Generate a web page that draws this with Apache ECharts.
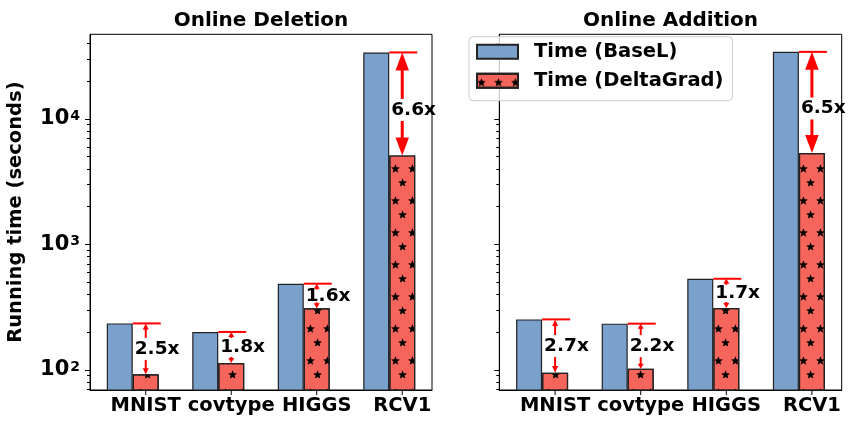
<!DOCTYPE html>
<html>
<head>
<meta charset="utf-8">
<script src="https://cdn.jsdelivr.net/npm/echarts@6/dist/echarts.min.js"></script>
<style>
  html, body { margin: 0; padding: 0; background: #fff; }
  #chart { width: 848px; height: 428px; }
</style>
</head>
<body>
<div id="chart"></div>
<script>
// data
var categories = ['MNIST', 'covtype', 'HIGGS', 'RCV1'];
var delBaseL = [235, 201, 487, 33850];
var delDeltaGrad = [92.4, 113.7, 310, 5120];
var delSpeedup = ['2.5x', '1.8x', '1.6x', '6.6x'];
var addBaseL = [253, 234, 533, 34200];
var addDeltaGrad = [95.2, 102.5, 312, 5340];
var addSpeedup = ['2.7x', '2.2x', '1.7x', '6.5x'];
var majorTicks = [100, 1000, 10000];
var minorTicks = [70, 80, 90, 200, 300, 400, 500, 600, 700, 800, 900,
    2000, 3000, 4000, 5000, 6000, 7000, 8000, 9000, 20000, 30000, 40000];
var yMin = 69.3, yMax = 47200;

var FONT = '"DejaVu Sans", "Liberation Sans", sans-serif';
var BLUE = '#7aa0cc', RED = '#f5655c', EDGE = '#222';
var BAR_FRAC = 0.304;

// one hatch tile (16 x 31 px, drawn x10) holding two staggered stars,
// corner specks pin the path's bounding box to the whole tile
function star(cx, cy, R) {
    var d = '';
    for (var k = 0; k < 10; k++) {
        var r = k % 2 ? R * 0.44 : R;
        var a = -Math.PI / 2 + k * Math.PI / 5;
        d += (k ? 'L' : 'M') + (cx + r * Math.cos(a)).toFixed(1) + ',' + (cy + r * Math.sin(a)).toFixed(1);
    }
    return d + 'Z';
}
var starTile = 'path://M0,0L0.01,0ZM160,310L159.99,310Z' +
    star(40, 82, 52) + star(120, 237, 52);

function arrow(x, yFrom, yTo, headLen, headW, lw) {
    var dir = yTo > yFrom ? 1 : -1;
    var els = [];
    if (Math.abs(yTo - yFrom) > headLen) {
        els.push({
            type: 'line',
            shape: { x1: x, y1: yFrom, x2: x, y2: yTo - dir * headLen * 0.8 },
            style: { stroke: 'red', lineWidth: lw }
        });
    }
    els.push({
        type: 'polygon',
        shape: { points: [[x, yTo], [x - headW / 2, yTo - dir * headLen], [x + headW / 2, yTo - dir * headLen]] },
        style: { fill: 'red' }
    });
    return els;
}

function renderNote(params, api) {
    var cs = params.coordSys;
    var i = api.value(0);
    var pBase = api.coord([i, api.value(1)]);
    var pDg = api.coord([i, api.value(2)]);
    var bw = api.size([1, 0])[0] * BAR_FRAC;
    var x0 = pBase[0];          // left edge of the DeltaGrad bar
    var ax = x0 + bw / 2;       // arrow runs down the middle of it
    var yb = pBase[1], yd = pDg[1];
    var span = yd - yb;
    var mid = (yb + yd) / 2 + (span > 80 ? 6 : 0);
    var gap = Math.min(11, span / 2 - 6);
    var seg = mid - gap - yb;
    var headLen = Math.max(5, Math.min(18, seg * 0.42));
    var headW = headLen * 0.75 < 6 ? 6 : headLen * 0.75;
    var lw = headLen > 12 ? 3 : 2;
    var children = [{
        type: 'line',
        shape: { x1: x0, y1: yb, x2: x0 + bw + 2, y2: yb },
        style: { stroke: 'red', lineWidth: 2 }
    }, {
        // x tick sits under the DeltaGrad bar
        type: 'line',
        shape: { x1: ax, y1: cs.y + cs.height, x2: ax, y2: cs.y + cs.height + 5 },
        style: { stroke: '#000', lineWidth: 1 }
    }];
    children = children.concat(arrow(ax, mid - gap, yb, headLen, headW, lw));
    children = children.concat(arrow(ax, mid + gap, yd, headLen, headW, lw));
    children.push({
        type: 'text',
        style: {
            text: api.value(3), x: ax - 11, y: mid,
            align: 'left', verticalAlign: 'middle',
            font: 'bold 18.5px ' + FONT, fill: '#000'
        }
    });
    return { type: 'group', children: children };
}

function noteData(base, dg, labels) {
    return categories.map(function (c, i) { return [i, base[i], dg[i], labels[i]]; });
}

function xAxisOf(grid) {
    return {
        type: 'category', gridIndex: grid, data: categories,
        axisLine: { lineStyle: { color: '#000', width: 1 } },
        axisTick: { show: false },
        axisLabel: {
            color: '#000', fontSize: 19.5, fontWeight: 'bold', fontFamily: FONT,
            margin: 6, padding: [0, 0, 0, 26], interval: 0
        }
    };
}

function yAxesOf(grid, labels) {
    var major = {
        type: 'log', logBase: 10, gridIndex: grid, min: yMin, max: yMax,
        axisLine: { show: true, lineStyle: { color: '#000', width: 1 } },
        axisTick: { show: true, length: 5, customValues: majorTicks, lineStyle: { color: '#000' } },
        splitLine: { show: false },
        axisLabel: {
            show: labels, customValues: majorTicks, margin: 10,
            formatter: function (v) { return '{b|10}{s|' + Math.round(Math.log10(v)) + '}'; },
            rich: {
                b: { fontSize: 21, fontWeight: 'bold', fontFamily: FONT, color: '#000', lineHeight: 22 },
                s: { fontSize: 14, fontWeight: 'bold', fontFamily: FONT, color: '#000', verticalAlign: 'top', padding: [1, 0, 0, 1] }
            }
        }
    };
    if (labels) {
        major.name = 'Running time (seconds)';
        major.nameLocation = 'middle';
        major.nameGap = 64;
        major.nameTextStyle = { fontSize: 19.5, fontWeight: 'bold', fontFamily: FONT, color: '#000' };
    }
    var minor = {
        type: 'log', logBase: 10, gridIndex: grid, min: yMin, max: yMax, position: 'left',
        axisLine: { show: false },
        axisTick: { show: true, length: 3, customValues: minorTicks, lineStyle: { color: '#000' } },
        axisLabel: { show: false },
        splitLine: { show: false }
    };
    return [major, minor];
}

function seriesOf(grid, base, dg, labels) {
    var yi = grid * 2;
    return [{
        name: 'Time (BaseL)', type: 'bar', xAxisIndex: grid, yAxisIndex: yi,
        data: base, barWidth: (BAR_FRAC * 100) + '%', barGap: '0%',
        itemStyle: { color: BLUE, borderColor: EDGE, borderWidth: 1.2 }
    }, {
        name: 'Time (DeltaGrad)', type: 'bar', xAxisIndex: grid, yAxisIndex: yi,
        data: dg, barWidth: (BAR_FRAC * 100) + '%', barGap: '0%',
        itemStyle: {
            color: RED, borderColor: EDGE, borderWidth: 1.2,
            decal: {
                symbol: starTile, symbolSize: 1, color: '#000',
                dashArrayX: [15.99, 0.01],
                dashArrayY: [30.99, 0.01]
            }
        }
    }, {
        type: 'custom', xAxisIndex: grid, yAxisIndex: yi, z: 5,
        data: noteData(base, dg, labels),
        encode: { x: 0, y: [1, 2] },
        renderItem: renderNote
    }];
}

var chart = echarts.init(document.getElementById('chart'));
var option = {
    animation: false,
    backgroundColor: '#fff',
    title: [{
        text: 'Online Deletion', left: 256, top: 6, textAlign: 'center',
        textStyle: { fontSize: 20, fontWeight: 'bold', fontFamily: FONT, color: '#000' }
    }, {
        text: 'Online Addition', left: 665.5, top: 6, textAlign: 'center',
        textStyle: { fontSize: 20, fontWeight: 'bold', fontFamily: FONT, color: '#000' }
    }],
    legend: {
        data: ['Time (BaseL)', 'Time (DeltaGrad)'],
        orient: 'vertical', left: 469, top: 36.7,
        itemWidth: 41, itemHeight: 14, itemGap: 9,
        padding: [5, 9, 10, 7],
        borderColor: '#ccc', borderWidth: 1, borderRadius: 4,
        backgroundColor: 'rgba(255,255,255,0.8)',
        icon: 'rect',
        textStyle: { fontSize: 19.5, fontWeight: 'bold', fontFamily: FONT, color: '#000', lineHeight: 20, padding: [0, 0, 0, 11] }
    },
    grid: [
        { left: 90, top: 34.3, width: 342, height: 355.7, show: true, borderColor: '#000', borderWidth: 1, containLabel: false },
        { left: 499.3, top: 34.3, width: 342.4, height: 355.7, show: true, borderColor: '#000', borderWidth: 1, containLabel: false }
    ],
    xAxis: [xAxisOf(0), xAxisOf(1)],
    yAxis: yAxesOf(0, true).concat(yAxesOf(1, false)),
    series: seriesOf(0, delBaseL, delDeltaGrad, delSpeedup)
        .concat(seriesOf(1, addBaseL, addDeltaGrad, addSpeedup))
};
chart.setOption(option);
</script>
</body>
</html>
